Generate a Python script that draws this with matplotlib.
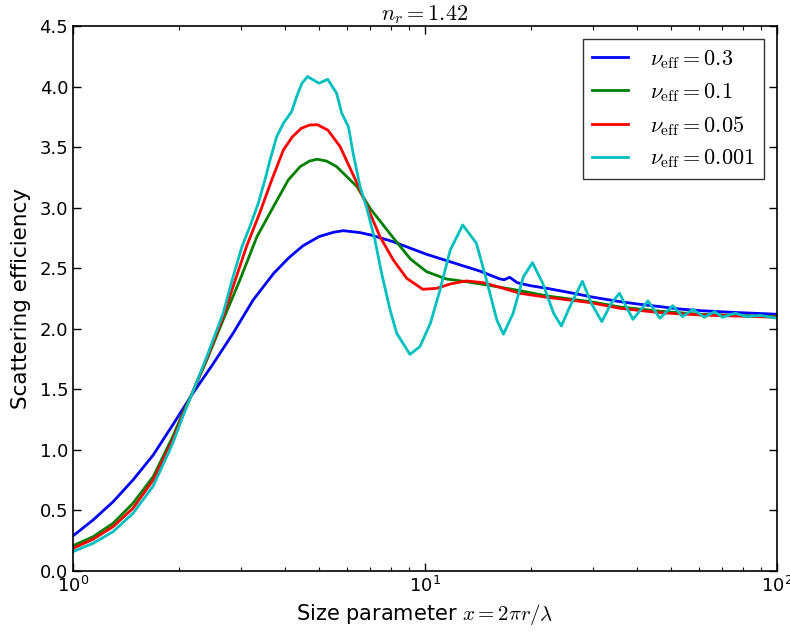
import matplotlib
matplotlib.use("Agg")
import matplotlib.pyplot as plt

# values (x = size parameter, y = scattering efficiency)
x_03 = [1.0, 1.14, 1.30, 1.48, 1.69, 1.92, 2.19, 2.5, 2.85, 3.25, 3.71, 4.1, 4.5,
        5.0, 5.5, 5.86, 6.54, 7.0, 8.1, 10.1, 12.6, 14.3, 16.3, 16.8, 17.4, 18.3,
        20.0, 22.2, 26.4, 29.5, 31.3, 35.8, 40.8, 46.5, 53.0, 60.4, 68.8, 78.5, 100.0]
y_03 = [0.29, 0.421, 0.572, 0.751, 0.958, 1.206, 1.467, 1.71, 1.963, 2.238, 2.455, 2.585, 2.685,
        2.761, 2.797, 2.81, 2.794, 2.775, 2.72, 2.615, 2.527, 2.477, 2.412, 2.405, 2.425, 2.38,
        2.355, 2.334, 2.293, 2.265, 2.252, 2.224, 2.202, 2.183, 2.163, 2.15, 2.141, 2.133, 2.12]

x_01 = [1.0, 1.14, 1.30, 1.48, 1.69, 1.92, 2.05, 2.19, 2.4, 2.67, 2.98, 3.33, 3.71, 4.09,
        4.42, 4.7, 4.94, 5.25, 5.61, 6.41, 7.0, 8.13, 9.1, 10.1, 11.5, 13.1, 15.6, 18.6, 22.2,
        29.5, 35.8, 46.5, 60.4, 100.0]
y_01 = [0.209, 0.283, 0.394, 0.559, 0.779, 1.109, 1.302, 1.48, 1.742, 2.073, 2.403, 2.76, 3.008, 3.229,
        3.339, 3.385, 3.40, 3.385, 3.339, 3.173, 2.99, 2.75, 2.575, 2.472, 2.411, 2.389, 2.353, 2.315,
        2.271, 2.224, 2.18, 2.145, 2.12, 2.10]

x_005 = [1.0, 1.14, 1.30, 1.48, 1.69, 1.92, 2.05, 2.19, 2.4, 2.67, 2.85, 3.11, 3.39, 3.67,
         3.96, 4.2, 4.45, 4.7, 4.95, 5.3, 5.74, 6.41, 6.98, 7.45, 8.13, 8.87, 9.86, 10.8, 11.8,
         13.1, 14.6, 16.3, 18.6, 22.2, 29.5, 35.8, 46.5, 60.4, 100.0]
y_005 = [0.187, 0.262, 0.366, 0.518, 0.751, 1.082, 1.288, 1.48, 1.756, 2.1, 2.348, 2.678, 2.954, 3.229,
         3.476, 3.585, 3.655, 3.682, 3.685, 3.64, 3.504, 3.202, 2.954, 2.76, 2.568, 2.417, 2.326, 2.334,
         2.37, 2.395, 2.381, 2.343, 2.293, 2.26, 2.216, 2.169, 2.133, 2.114, 2.095]

x_0001 = [1.0, 1.14, 1.30, 1.48, 1.69, 1.92, 2.05, 2.19, 2.4, 2.67, 2.85, 3.02, 3.18, 3.36,
          3.51, 3.63, 3.79, 3.96, 4.18, 4.32, 4.47, 4.64, 5.0, 5.29, 5.61, 5.80, 6.06, 6.25,
          6.54, 6.83, 7.2, 7.53, 7.96, 8.31, 9.06, 9.67, 10.36, 11.03, 11.8, 12.8, 14.0, 14.95,
          16.0, 16.7, 17.8, 19.04, 20.2, 21.6, 23.2, 24.4, 25.8, 28.0, 29.7, 31.8, 33.8, 35.7,
          37.3, 39.0, 43.0, 46.5, 50.6, 53.9, 57.7, 62.2, 66.5, 70.0, 76.0, 82.0, 90.0, 100.0]
y_0001 = [0.16, 0.229, 0.325, 0.476, 0.702, 1.054, 1.274, 1.48, 1.77, 2.128, 2.43, 2.678, 2.843, 3.036,
          3.229, 3.394, 3.586, 3.697, 3.793, 3.917, 4.027, 4.082, 4.027, 4.06, 3.945, 3.78, 3.669, 3.449,
          3.173, 3.0, 2.74, 2.458, 2.155, 1.963, 1.789, 1.852, 2.045, 2.32, 2.651, 2.857, 2.706, 2.403,
          2.073, 1.955, 2.128, 2.43, 2.546, 2.376, 2.128, 2.023, 2.183, 2.392, 2.21, 2.059, 2.21, 2.293,
          2.183, 2.078, 2.23, 2.087, 2.191, 2.10, 2.161, 2.095, 2.141, 2.095, 2.128, 2.10, 2.11, 2.087]

series = [
    (x_03, y_03, "b", r"$\nu_{\rm eff}=0.3$"),
    (x_01, y_01, "g", r"$\nu_{\rm eff}=0.1$"),
    (x_005, y_005, "r", r"$\nu_{\rm eff}=0.05$"),
    (x_0001, y_0001, "c", r"$\nu_{\rm eff}=0.001$"),
]

plt.rcParams["mathtext.fontset"] = "cm"
plt.rcParams["font.family"] = "DejaVu Sans"

fig = plt.figure(figsize=(7.9, 6.37), dpi=100)
ax = fig.add_subplot(111)
fig.subplots_adjust(left=0.0924, right=0.9835, top=0.9592, bottom=0.1036)

for xs, ys, col, lab in series:
    ax.plot(xs, ys, color=col, lw=2.0, label=lab)

ax.set_xscale("log")
ax.set_xlim(1, 100)
ax.set_ylim(0, 4.5)
ax.set_yticks([0.0, 0.5, 1.0, 1.5, 2.0, 2.5, 3.0, 3.5, 4.0, 4.5])
ax.yaxis.set_major_formatter(matplotlib.ticker.FormatStrFormatter("%.1f"))

ax.tick_params(which="both", direction="in", top=True, right=True, labelsize=13)
ax.tick_params(which="major", length=6, width=1)
ax.tick_params(which="minor", length=3, width=0.8)
for s in ax.spines.values():
    s.set_linewidth(1.2)

ax.set_xlabel(r"Size parameter $x=2\pi r/\lambda$", fontsize=15)
ax.set_ylabel("Scattering efficiency", fontsize=15.5, labelpad=6)
ax.set_title(r"$n_r=1.42$", fontsize=16, pad=4)

leg = ax.legend(loc="upper right", fontsize=16, fancybox=False, handlelength=1.6,
                handletextpad=1.0, labelspacing=0.45, borderaxespad=0.6)
leg.get_frame().set_edgecolor("black")
leg.get_frame().set_linewidth(1.0)

plt.savefig("out.png", dpi=100)
plt.close()
print("Saved: out.png")
